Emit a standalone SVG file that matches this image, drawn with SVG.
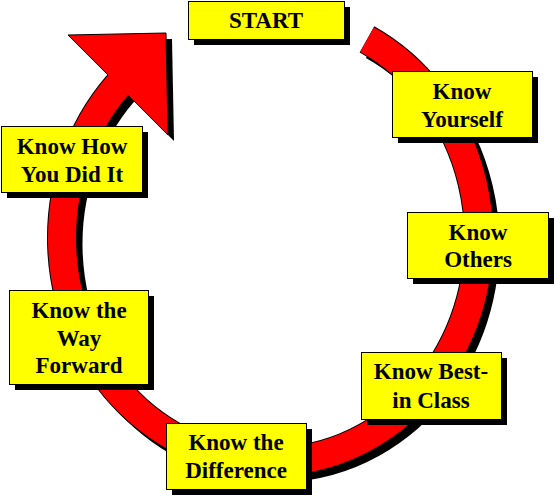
<svg xmlns="http://www.w3.org/2000/svg" width="555" height="497" viewBox="0 0 555 497">
<style>
.box{fill:#ffff00;stroke:#000;stroke-width:1}
.sh{fill:#000}
.t{font-family:"Liberation Serif","Times New Roman",serif;font-weight:bold;font-size:23px;fill:#000;text-anchor:middle}
</style>
<rect width="555" height="497" fill="#fff"/>
<g id="connectors">
  <g transform="translate(6,6)">
    <path d="M 367 39.44 A 208.5 224 0 1 1 125 77.56" fill="none" stroke="#000" stroke-width="29"/>
    <polygon points="68,35 166,33 168,135" fill="#000"/>
  </g>
  <path d="M 367 39.44 A 208.5 224 0 1 1 125 77.56" fill="none" stroke="#000" stroke-width="30"/>
  <path d="M 367 39.44 A 208.5 224 0 1 1 125 77.56" fill="none" stroke="#ff0000" stroke-width="28"/>
  <polygon points="68,35 166,33 168,135" fill="#ff0000"/>
  <polyline points="108,75 68,35 166,33 168,135 128,95" fill="none" stroke="#000" stroke-width="1"/>
</g>
<g id="start">
  <rect class="sh" x="194" y="7" width="156" height="38"/>
  <rect class="box" x="188.5" y="1.5" width="156" height="38"/>
  <text class="t" x="266" y="28">START</text>
</g>
<g id="know-yourself">
  <rect class="sh" x="398" y="77" width="140" height="66"/>
  <rect class="box" x="392.5" y="71.5" width="140" height="66"/>
  <text class="t" x="462" y="99">Know</text>
  <text class="t" x="462" y="127">Yourself</text>
</g>
<g id="know-others">
  <rect class="sh" x="413" y="218" width="141" height="66"/>
  <rect class="box" x="407.5" y="212.5" width="141" height="66"/>
  <text class="t" x="478" y="240">Know</text>
  <text class="t" x="478" y="267">Others</text>
</g>
<g id="know-best">
  <rect class="sh" x="367" y="358" width="140" height="67"/>
  <rect class="box" x="361.5" y="352.5" width="140" height="67"/>
  <text class="t" x="431" y="379">Know Best-</text>
  <text class="t" x="431" y="408">in Class</text>
</g>
<g id="know-difference">
  <rect class="sh" x="172" y="429" width="140" height="66"/>
  <rect class="box" x="166.5" y="423.5" width="140" height="66"/>
  <text class="t" x="236" y="450">Know the</text>
  <text class="t" x="236" y="478">Difference</text>
</g>
<g id="know-way-forward">
  <rect class="sh" x="15" y="296" width="139" height="94"/>
  <rect class="box" x="9.5" y="290.5" width="139" height="94"/>
  <text class="t" x="79" y="318">Know the</text>
  <text class="t" x="79" y="346">Way</text>
  <text class="t" x="79" y="373">Forward</text>
</g>
<g id="know-how">
  <rect class="sh" x="7" y="132" width="141" height="66"/>
  <rect class="box" x="1.5" y="126.5" width="141" height="66"/>
  <text class="t" x="72" y="154">Know How</text>
  <text class="t" x="72" y="182">You Did It</text>
</g>
</svg>
